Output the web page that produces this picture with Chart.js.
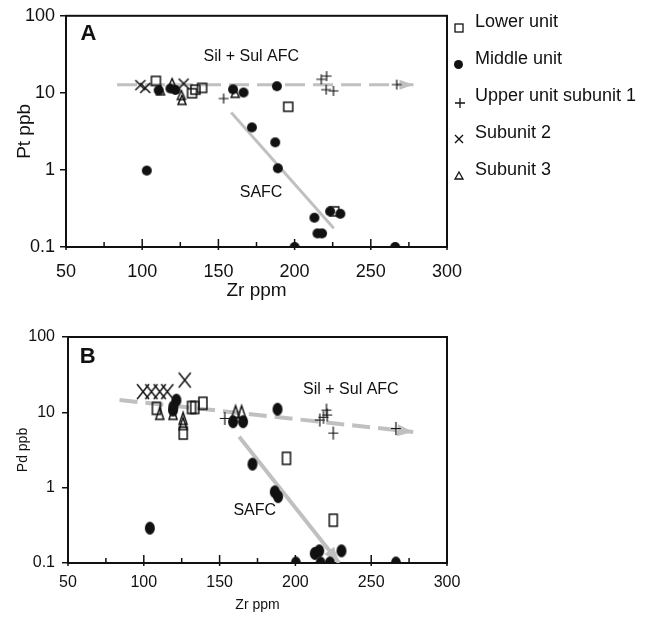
<!DOCTYPE html>
<html>
<head>
<meta charset="utf-8">
<script src="https://cdn.jsdelivr.net/npm/chart.js@4.4.0/dist/chart.umd.min.js"></script>
<style>
  body { margin: 0; background: #fff; width: 652px; height: 617px; position: relative; overflow: hidden;
         font-family: "Liberation Sans", Arial, sans-serif; color: #111; }
  canvas { position: absolute; left: 0; }
  #legend { position: absolute; left: 452px; top: 2.5px; font-size: 18px; }
  #legend .row { height: 37px; display: flex; align-items: center; }
  #legend .sym { width: 16px; display: flex; justify-content: center; margin-right: 7px; }
</style>
</head>
<body>
<canvas id="chartA" width="652" height="305" style="top:0"></canvas>
<canvas id="chartB" width="652" height="312" style="top:305px"></canvas>
<div id="legend"></div>
<script>
// series
const seriesNames = ['Lower unit', 'Middle unit', 'Upper unit subunit 1', 'Subunit 2', 'Subunit 3'];
const symbolKinds = ['square', 'circle', 'plus', 'cross', 'triangle'];

// axes
const zrTicks = [50, 100, 150, 200, 250, 300];
const logTicks = [0.1, 1, 10, 100];

// Panel A: Pt (ppb) vs Zr (ppm)
const zrLowerA = [109, 132.7, 134.9, 139.3, 195.8, 226];
const ptLowerA = [14.3, 9.9, 11, 11.6, 6.6, 0.29];
const zrMiddleA = [103, 110.8, 118.5, 121.8, 159.6, 166.5, 188.4, 172, 187.3, 189, 213, 215, 218, 223.3, 230, 200, 266];
const ptMiddleA = [0.98, 10.8, 11.4, 10.9, 11.1, 10.1, 12.2, 3.56, 2.28, 1.05, 0.24, 0.15, 0.15, 0.29, 0.27, 0.1, 0.1];
const zrUpperA = [153.4, 217.5, 221, 220.7, 225.5, 267];
const ptUpperA = [8.45, 15, 16.5, 11, 10.6, 12.8];
const zrSub2A = [98.8, 102, 127.2];
const ptSub2A = [12.6, 11.6, 13.2];
const zrSub3A = [112, 119.6, 125.7, 126.1, 161];
const ptSub3A = [10.8, 13.4, 9.4, 8.1, 10];
const zrAfcA = [83.5, 278];
const ptAfcA = [12.7, 12.7];
const zrSafcA = [158.4, 225.7];
const ptSafcA = [5.55, 0.175];

// Panel B: Pd (ppb) vs Zr (ppm)
const zrLowerB = [108.3, 126, 131.5, 133.6, 139, 194.1, 225];
const pdLowerB = [11.3, 5.3, 11.6, 11.6, 13.2, 2.45, 0.37];
const zrMiddleB = [104, 119.3, 121.5, 119.5, 158.9, 165.5, 188.2, 171.7, 186.4, 188.6, 200.3, 212.8, 215.7, 216.6, 222.7, 230.4, 266.3];
const pdMiddleB = [0.29, 10.7, 14.5, 11.9, 7.5, 7.5, 11, 2.05, 0.88, 0.76, 0.1, 0.134, 0.145, 0.1, 0.1, 0.145, 0.1];
const zrUpperB = [153.4, 216.1, 218.5, 220.5, 221, 225, 266.3];
const pdUpperB = [8.3, 7.9, 8.6, 10.7, 9.2, 5.3, 6.1];
const zrSub2B = [99.5, 105, 110.5, 115.5, 127];
const pdSub2B = [18.8, 18.8, 18.8, 18.8, 26.8];
const zrSub3B = [110.5, 119.3, 125.9, 125.9, 160.5, 164.5];
const pdSub3B = [9.7, 9.7, 8.3, 7.1, 10.2, 10.2];
const zrAfcB = [84, 277.7];
const pdAfcB = [14.6, 5.5];
const zrSafcB = [162.9, 228.9];
const pdSafcB = [4.74, 0.1];

Chart.defaults.font.family = '"Liberation Sans", Arial, sans-serif';
Chart.defaults.color = '#111';

function pts(xs, ys) {
  return xs.map((x, i) => ({ x: x, y: ys[i] }));
}

// draws a marker into a small canvas used as pointStyle
function makeSymbol(kind, w, h, lw) {
  const pad = Math.ceil(lw) + 1;
  const c = document.createElement('canvas');
  c.width = Math.ceil(w + pad * 2);
  c.height = Math.ceil(h + pad * 2);
  const g = c.getContext('2d');
  g.strokeStyle = g.fillStyle = '#111';
  g.lineWidth = lw;
  const cx = c.width / 2, cy = c.height / 2;
  g.beginPath();
  if (kind === 'square') {
    g.strokeRect(cx - w / 2, cy - h / 2, w, h);
  } else if (kind === 'circle') {
    g.ellipse(cx, cy, w / 2, h / 2, 0, 0, Math.PI * 2);
    g.fill();
  } else if (kind === 'plus') {
    g.moveTo(cx - w / 2, cy); g.lineTo(cx + w / 2, cy);
    g.moveTo(cx, cy - h / 2); g.lineTo(cx, cy + h / 2);
    g.stroke();
  } else if (kind === 'cross') {
    g.moveTo(cx - w / 2, cy - h / 2); g.lineTo(cx + w / 2, cy + h / 2);
    g.moveTo(cx + w / 2, cy - h / 2); g.lineTo(cx - w / 2, cy + h / 2);
    g.stroke();
  } else if (kind === 'triangle') {
    g.moveTo(cx, cy - h / 2); g.lineTo(cx + w / 2, cy + h / 2); g.lineTo(cx - w / 2, cy + h / 2);
    g.closePath();
    g.stroke();
  }
  return c;
}

const symSizeA = { square: [9, 9, 1.5], circle: [10, 10, 1], plus: [10, 10, 1.2], cross: [10, 10, 1.5], triangle: [8, 9, 1.5] };
const symSizeB = { square: [8, 12, 1.5], circle: [10, 13, 1], plus: [10, 13, 1.2], cross: [12, 15, 1.5], triangle: [8, 12, 1.5] };
const symSizeLegend = { square: [8, 8, 1.3], circle: [9, 9, 1], plus: [10, 10, 1.3], cross: [8, 8, 1.4], triangle: [8, 7, 1.3] };

// frame, inward x ticks, arrowheads and text labels
const panelPlugin = {
  id: 'panel',
  beforeDatasetsDraw(chart) {
    const { ctx, chartArea: a, scales: { x } } = chart;
    ctx.save();
    ctx.strokeStyle = '#111';
    ctx.lineWidth = 2;
    ctx.strokeRect(a.left, a.top, a.right - a.left, a.bottom - a.top);
    ctx.lineWidth = 1.5;
    for (let v = x.min; v <= x.max; v += 25) {
      const px = x.getPixelForValue(v);
      const major = zrTicks.includes(v);
      ctx.beginPath();
      ctx.moveTo(px, a.bottom + (major ? 3 : 0));
      ctx.lineTo(px, a.bottom - (major ? 8 : 5));
      ctx.stroke();
    }
    ctx.restore();
  },
  afterDatasetDraw(chart, args) {
    const ds = chart.data.datasets[args.index];
    if (!ds.arrow) return;
    const pts = args.meta.data;
    const p1 = pts[pts.length - 2], p2 = pts[pts.length - 1];
    const ang = Math.atan2(p2.y - p1.y, p2.x - p1.x);
    const len = ds.arrow.len, hw = ds.arrow.half;
    const { ctx } = chart;
    ctx.save();
    ctx.fillStyle = ds.borderColor;
    ctx.translate(p2.x, p2.y);
    ctx.rotate(ang);
    ctx.beginPath();
    ctx.moveTo(0, 0);
    ctx.lineTo(-len, -hw);
    ctx.lineTo(-len, hw);
    ctx.closePath();
    ctx.fill();
    ctx.restore();
  },
  afterDraw(chart, args, opts) {
    const { ctx, scales: { x, y } } = chart;
    ctx.save();
    ctx.fillStyle = '#111';
    ctx.textAlign = 'center';
    ctx.textBaseline = 'middle';
    (opts.notes || []).forEach(n => {
      ctx.font = (n.bold ? 'bold ' : '') + n.size + 'px "Liberation Sans", Arial, sans-serif';
      ctx.fillText(n.text, x.getPixelForValue(n.x), y.getPixelForValue(n.y));
    });
    ctx.restore();
  }
};

function makePanel(id, cfg) {
  const sizes = cfg.sizes;
  const markerSets = cfg.series.map((s, i) => {
    const k = symbolKinds[i];
    return {
      label: seriesNames[i],
      data: pts(s[0], s[1]),
      pointStyle: makeSymbol(k, sizes[k][0], sizes[k][1], sizes[k][2]),
      pointRadius: 6,
      showLine: false,
      order: 1
    };
  });
  const lineSets = cfg.lines.map(l => ({
    label: l.name,
    data: pts(l.xs, l.ys),
    showLine: true,
    pointRadius: 0,
    borderColor: '#c0c0c0',
    borderWidth: l.width,
    borderDash: l.dash,
    arrow: l.arrow,
    order: 10
  }));
  return new Chart(document.getElementById(id), {
    type: 'scatter',
    data: { datasets: lineSets.concat(markerSets) },
    options: {
      responsive: false,
      animation: false,
      events: [],
      layout: { padding: cfg.padding },
      plugins: {
        legend: { display: false },
        tooltip: { enabled: false },
        panel: { notes: cfg.notes }
      },
      scales: {
        x: {
          type: 'linear',
          min: 50, max: 300,
          afterBuildTicks: s => { s.ticks = zrTicks.map(v => ({ value: v })); },
          afterFit: s => { s.height = cfg.xHeight; },
          grid: { display: false, drawTicks: false },
          border: { display: false },
          ticks: { font: { size: cfg.tickSize }, padding: cfg.xPad, maxRotation: 0, color: '#111' },
          title: { display: true, text: 'Zr ppm', font: { size: cfg.xTitleSize }, padding: { top: 0, bottom: 3 }, color: '#111' }
        },
        y: {
          type: 'logarithmic',
          min: 0.1, max: 100,
          afterBuildTicks: s => { s.ticks = logTicks.map(v => ({ value: v })); },
          afterFit: s => { s.width = cfg.yWidth; },
          grid: { drawOnChartArea: false, drawTicks: true, tickLength: 6, color: '#111', lineWidth: 1.5 },
          border: { display: false },
          ticks: { font: { size: cfg.tickSize }, padding: cfg.yPad, color: '#111', callback: v => String(v) },
          title: { display: true, text: cfg.yTitle, font: { size: cfg.yTitleSize }, padding: { top: cfg.yTitlePad, bottom: 0 }, color: '#111' }
        }
      }
    },
    plugins: [panelPlugin]
  });
}

makePanel('chartA', {
  sizes: symSizeA,
  series: [[zrLowerA, ptLowerA], [zrMiddleA, ptMiddleA], [zrUpperA, ptUpperA], [zrSub2A, ptSub2A], [zrSub3A, ptSub3A]],
  lines: [
    { name: 'Sil + Sul AFC', xs: zrAfcA, ys: ptAfcA, width: 3, dash: [20, 8], arrow: { len: 14, half: 5 } },
    { name: 'SAFC', xs: zrSafcA, ys: ptSafcA, width: 3, dash: [], arrow: null }
  ],
  notes: [
    { text: 'A', x: 64.7, y: 58.9, size: 22, bold: true },
    { text: 'Sil + Sul AFC', x: 171.6, y: 29.8, size: 16 },
    { text: 'SAFC', x: 178, y: 0.507, size: 16 }
  ],
  padding: { top: 13, right: 205, bottom: 0, left: 0 },
  xHeight: 58, yWidth: 66,
  tickSize: 18, xPad: 14, yPad: 5,
  xTitleSize: 19, yTitle: 'Pt ppb', yTitleSize: 19, yTitlePad: 13
});

makePanel('chartB', {
  sizes: symSizeB,
  series: [[zrLowerB, pdLowerB], [zrMiddleB, pdMiddleB], [zrUpperB, pdUpperB], [zrSub2B, pdSub2B], [zrSub3B, pdSub3B]],
  lines: [
    { name: 'Sil + Sul AFC', xs: zrAfcB, ys: pdAfcB, width: 4, dash: [18, 8], arrow: { len: 16, half: 6 } },
    { name: 'SAFC', xs: zrSafcB, ys: pdSafcB, width: 4, dash: [], arrow: { len: 16, half: 6 } }
  ],
  notes: [
    { text: 'B', x: 63, y: 54.2, size: 22, bold: true },
    { text: 'Sil + Sul AFC', x: 236.6, y: 19.8, size: 16 },
    { text: 'SAFC', x: 173.2, y: 0.489, size: 16 }
  ],
  padding: { top: 32, right: 205, bottom: 0, left: 0 },
  xHeight: 54, yWidth: 68,
  tickSize: 16, xPad: 10, yPad: 7,
  xTitleSize: 14, yTitle: 'Pd ppb', yTitleSize: 14, yTitlePad: 15
});

// legend
const legend = document.getElementById('legend');
seriesNames.forEach((name, i) => {
  const k = symbolKinds[i];
  const row = document.createElement('div');
  row.className = 'row';
  const sym = document.createElement('span');
  sym.className = 'sym';
  sym.appendChild(makeSymbol(k, symSizeLegend[k][0], symSizeLegend[k][1], symSizeLegend[k][2]));
  const txt = document.createElement('span');
  txt.textContent = name;
  row.appendChild(sym);
  row.appendChild(txt);
  legend.appendChild(row);
});
</script>
</body>
</html>
